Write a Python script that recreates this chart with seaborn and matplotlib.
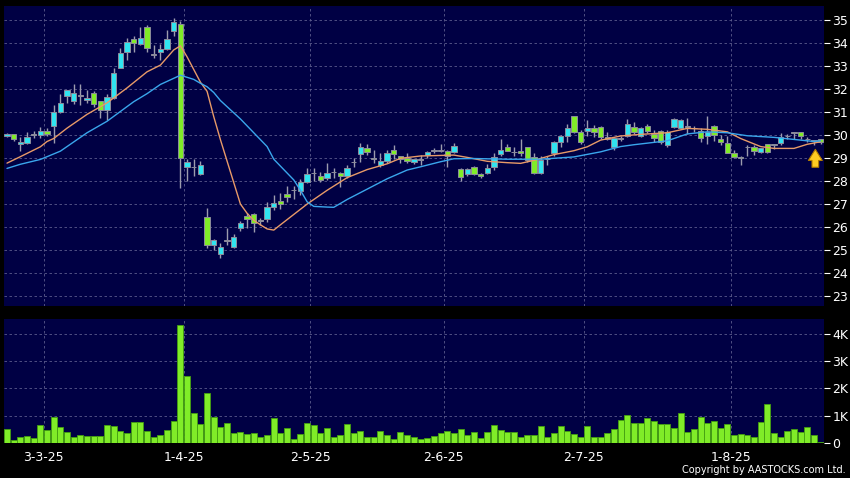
import matplotlib
matplotlib.use("Agg")
import matplotlib.pyplot as plt
import seaborn as sns
import pandas as pd

# daily candles (one per trading day)
opens = [29.95, 30.03, 29.62, 29.64, 30.02, 30.00, 30.19, 30.39, 31.00, 31.70,
         31.48, 31.70, 31.52, 31.81, 31.48, 31.09, 31.60, 32.93, 33.60, 34.17,
         33.94, 34.68, 33.48, 33.60, 33.72, 34.52, 34.81, 28.60, 28.60, 28.29,
         26.45, 25.22, 24.81, 25.40, 25.12, 25.94, 26.48, 26.55, 26.27, 26.33,
         26.88, 27.13, 27.46, 27.60, 27.58, 27.94, 28.33, 28.22, 28.12, 28.38,
         28.36, 28.22, 28.81, 29.16, 29.45, 28.96, 28.71, 28.88, 29.35, 29.10,
         29.01, 28.81, 28.91, 29.12, 29.30, 29.30, 29.32, 29.25, 28.51, 28.30,
         28.60, 28.30, 28.33, 28.62, 29.16, 29.46, 29.25, 29.30, 29.46, 29.03,
         28.36, 28.94, 29.20, 29.68, 29.96, 30.83, 30.14, 30.17, 30.29, 30.36,
         29.93, 29.49, 29.82, 29.96, 30.36, 29.96, 30.39, 30.03, 30.17, 29.57,
         30.33, 30.29, 30.36, 30.29, 30.19, 29.96, 30.39, 29.81, 29.64, 29.20,
         29.05, 29.47, 29.49, 29.27, 29.60, 29.56, 29.64, 29.94, 30.10, 30.12,
         29.81, 29.74, 29.81]
highs = [30.10, 30.05, 29.93, 30.12, 30.17, 30.35, 30.30, 31.30, 31.80, 31.97,
         32.20, 32.20, 31.95, 31.90, 31.50, 31.80, 32.90, 33.80, 34.20, 34.30,
         34.71, 34.80, 33.91, 33.95, 34.55, 35.10, 34.95, 28.98, 28.96, 28.88,
         26.84, 25.50, 25.30, 25.97, 25.70, 26.25, 26.60, 26.60, 26.40, 27.10,
         27.40, 27.50, 27.80, 27.80, 28.10, 28.55, 28.55, 28.40, 28.77, 28.55,
         28.40, 28.70, 28.99, 29.64, 29.60, 29.35, 29.20, 29.35, 29.55, 29.10,
         29.20, 28.97, 29.13, 29.30, 29.45, 29.60, 29.35, 29.65, 28.55, 28.55,
         28.65, 28.35, 28.75, 29.20, 29.85, 29.60, 29.50, 29.81, 29.50, 29.20,
         29.10, 29.10, 29.75, 30.00, 30.50, 30.85, 30.20, 30.65, 30.45, 30.40,
         30.15, 29.90, 29.95, 30.70, 30.55, 30.35, 30.50, 30.20, 30.20, 30.20,
         30.75, 30.70, 30.73, 30.40, 30.30, 30.83, 30.45, 30.00, 29.95, 29.35,
         29.10, 29.55, 29.55, 29.45, 29.62, 29.62, 30.10, 30.05, 30.12, 30.15,
         29.90, 29.80, 29.85]
lows = [29.90, 29.74, 29.30, 29.60, 29.87, 29.88, 29.95, 29.64, 30.95, 31.40,
        31.35, 31.30, 31.40, 31.20, 30.75, 30.65, 31.55, 32.90, 33.26, 33.60,
        33.90, 33.60, 33.33, 33.25, 33.70, 34.30, 27.72, 28.01, 28.20, 28.25,
        25.10, 25.00, 24.64, 25.22, 25.10, 25.85, 25.94, 25.80, 26.10, 26.20,
        26.75, 26.80, 27.10, 27.20, 27.40, 27.90, 28.00, 27.95, 28.05, 28.15,
        27.75, 28.15, 28.60, 28.85, 29.15, 28.77, 28.60, 28.80, 28.95, 28.80,
        28.80, 28.75, 28.70, 29.00, 29.20, 29.25, 28.62, 29.20, 28.01, 28.20,
        28.25, 28.15, 28.30, 28.50, 29.10, 29.30, 29.10, 29.10, 28.85, 28.30,
        28.30, 28.70, 29.10, 29.50, 29.70, 30.10, 29.60, 29.95, 29.90, 29.85,
        29.80, 29.35, 29.75, 29.90, 30.05, 29.90, 30.10, 29.70, 29.60, 29.50,
        30.30, 30.25, 30.06, 30.15, 29.70, 29.60, 29.75, 29.55, 29.20, 29.00,
        28.70, 29.10, 29.15, 29.20, 29.20, 29.40, 29.55, 29.85, 29.84, 29.85,
        29.70, 29.55, 29.60]
closes = [30.03, 29.81, 29.70, 29.90, 30.02, 30.19, 30.03, 30.99, 31.38, 31.97,
          31.81, 31.70, 31.62, 31.33, 31.09, 31.67, 32.68, 33.55, 34.06, 34.00,
          34.23, 33.80, 33.48, 33.74, 34.17, 34.90, 29.01, 28.81, 28.60, 28.70,
          25.22, 25.46, 25.12, 25.43, 25.55, 26.16, 26.35, 26.16, 26.32, 26.88,
          27.03, 27.00, 27.32, 27.60, 27.94, 28.29, 28.33, 28.04, 28.33, 28.38,
          28.22, 28.58, 28.81, 29.49, 29.25, 28.96, 28.88, 29.23, 29.17, 28.94,
          28.88, 28.94, 28.91, 29.25, 29.30, 29.30, 29.10, 29.52, 28.19, 28.51,
          28.30, 28.22, 28.55, 29.03, 29.35, 29.32, 29.25, 29.20, 28.91, 28.36,
          28.91, 28.94, 29.68, 29.96, 30.29, 30.14, 29.71, 30.32, 30.14, 29.90,
          29.81, 29.88, 29.86, 30.46, 30.12, 30.29, 30.17, 29.86, 29.71, 30.14,
          30.72, 30.65, 30.36, 30.29, 29.86, 30.12, 30.00, 29.72, 29.20, 29.03,
          28.99, 29.49, 29.32, 29.45, 29.27, 29.58, 29.93, 29.96, 30.12, 29.96,
          29.81, 29.76, 29.68]
volume = [510, 121, 207, 256, 183, 671, 464, 964, 598, 390,
          232, 305, 244, 256, 244, 659, 610, 451, 378, 769,
          769, 427, 232, 281, 464, 818, 4330, 2463, 1098, 708,
          1830, 964, 598, 744, 354, 415, 342, 354, 220, 305,
          903, 378, 537, 146, 330, 744, 671, 366, 561, 207,
          293, 695, 354, 451, 232, 232, 451, 305, 159, 390,
          293, 232, 130, 171, 244, 366, 427, 366, 525, 293,
          403, 195, 390, 647, 476, 403, 415, 232, 293, 293,
          635, 232, 354, 622, 439, 342, 207, 622, 220, 232,
          354, 512, 830, 1013, 732, 732, 927, 793, 683, 695,
          561, 1086, 415, 525, 940, 720, 793, 537, 683, 293,
          330, 305, 232, 756, 1415, 378, 232, 439, 525, 415,
          598, 281, 37]

# moving averages read at points along the two lines
ma_fast_days = [0, 2, 5, 6, 7, 9, 12, 15, 18, 21, 23, 25, 26, 27, 29, 30, 31, 32,
                35, 36, 37, 38, 39, 40, 41, 43, 45, 48, 51, 54, 57, 59, 62, 67,
                69, 72, 75, 77, 79, 82, 85, 87, 89, 92, 95, 99, 102, 105, 108,
                110, 113, 115, 118, 120, 122]
ma_fast = [28.78, 29.06, 29.49, 29.72, 29.85, 30.30, 30.90, 31.40, 32.05, 32.75,
           33.04, 33.70, 33.88, 33.40, 32.30, 31.90, 30.80, 29.80, 27.00, 26.60,
           26.30, 26.10, 25.92, 25.87, 26.10, 26.55, 27.00, 27.60, 28.15, 28.50,
           28.75, 28.99, 29.09, 29.13, 29.03, 28.86, 28.80, 28.77, 28.90, 29.15,
           29.32, 29.49, 29.78, 29.96, 30.03, 30.10, 30.29, 30.25, 30.14, 29.85,
           29.50, 29.42, 29.42, 29.60, 29.71]
ma_slow_days = [0, 2, 5, 8, 12, 15, 19, 21, 23, 26, 28, 29, 30, 31, 32, 35, 36,
                39, 40, 43, 44, 45, 46, 48, 49, 51, 54, 57, 60, 62, 65, 67, 70,
                75, 80, 85, 89, 92, 94, 99, 102, 105, 108, 111, 115, 118, 121, 122]
ma_slow = [28.55, 28.73, 28.94, 29.30, 30.10, 30.60, 31.45, 31.80, 32.20, 32.60,
           32.42, 32.25, 32.10, 31.85, 31.50, 30.70, 30.40, 29.50, 28.95, 28.05,
           27.60, 27.10, 26.90, 26.87, 26.86, 27.20, 27.65, 28.10, 28.48, 28.62,
           28.84, 28.97, 28.98, 28.95, 28.95, 29.05, 29.27, 29.50, 29.58, 29.75,
           30.05, 30.14, 30.10, 29.97, 29.90, 29.81, 29.72, 29.75]

tick_days = [5, 26, 45, 65, 86, 108]
tick_labels = ["3-3-25", "1-4-25", "2-5-25", "2-6-25", "2-7-25", "1-8-25"]
price_ticks = list(range(23, 36))
vol_ticks = [0, 1000, 2000, 3000, 4000]
vol_labels = ["0", "1K", "2K", "3K", "4K"]

df = pd.DataFrame({"day": range(len(closes)), "open": opens, "high": highs,
                   "low": lows, "close": closes, "volume": volume})

sns.set_style("dark")
plt.rcParams["font.family"] = ["DejaVu Sans"]

navy = "#000044"
cyan = "#30e4f0"
green = "#80ec28"
grid_kw = dict(color="#5c5c8c", linestyle=(0, (3, 3)), linewidth=0.6)

fig = plt.figure(figsize=(8.5, 4.78), dpi=100, facecolor="black")
ax = fig.add_axes([4 / 850, 172 / 478, 820 / 850, 300 / 478])
axv = fig.add_axes([4 / 850, 35 / 478, 820 / 850, 124 / 478])

# candles
diff = df["close"] - df["open"]
body_col = ["#a8a8a8" if abs(d) < 0.04 else (cyan if d > 0 else green) for d in diff]
body_h = diff.abs().clip(lower=0.03)
body_lo = df[["open", "close"]].min(axis=1)
ax.vlines(df["day"], df["low"], df["high"], color="#9c9cae", linewidth=1, zorder=2)
ax.bar(df["day"], body_h, bottom=body_lo, width=0.8, color=body_col,
       edgecolor="#8c8c9c", linewidth=0.7, zorder=3)

sns.lineplot(x=ma_fast_days, y=ma_fast, ax=ax, color="#e89a68", linewidth=1, zorder=4)
sns.lineplot(x=ma_slow_days, y=ma_slow, ax=ax, color="#3aa6ec", linewidth=1, zorder=4)

last = df["day"].iloc[-1] - 0.8
ax.annotate("", xy=(last, 29.5), xytext=(last, 28.48),
            arrowprops=dict(arrowstyle="simple,head_length=0.4,head_width=0.5,tail_width=0.24",
                            mutation_scale=20, fc="#ffcc22", ec="#b07a00", lw=0.8),
            zorder=6)

# volume
sns.barplot(x=df["day"], y=df["volume"], ax=axv, color=green, saturation=1,
            width=0.9, edgecolor="#44a010", linewidth=0.6)

for a in (ax, axv):
    a.set_facecolor(navy)
    a.set_xlim(-0.45, 122.5)
    a.set_xticks([d + 0.5 for d in tick_days])
    a.grid(True, **grid_kw)
    a.set_axisbelow(True)
    for s in a.spines.values():
        s.set_visible(False)
    a.yaxis.tick_right()
    a.tick_params(axis="y", colors="white", labelcolor="white", length=4, width=0.8,
                  labelsize=9, pad=2, right=True, left=False)
    a.set_xlabel("")
    a.set_ylabel("")

ax.set_ylim(22.57, 35.61)
ax.set_yticks(price_ticks)
ax.tick_params(axis="x", length=0, labelbottom=False)

axv.set_ylim(0, 4550)
axv.set_yticks(vol_ticks)
axv.set_yticklabels(vol_labels)
axv.set_xticklabels(tick_labels)
axv.tick_params(axis="x", colors="white", labelcolor="white", length=3, width=0.8,
                labelsize=9, pad=3)

fig.text(846 / 850, 8 / 478, "Copyright by AASTOCKS.com Ltd.", color="white",
         fontsize=7, ha="right", va="center")

fig.savefig("out.png", dpi=100, facecolor="black")
